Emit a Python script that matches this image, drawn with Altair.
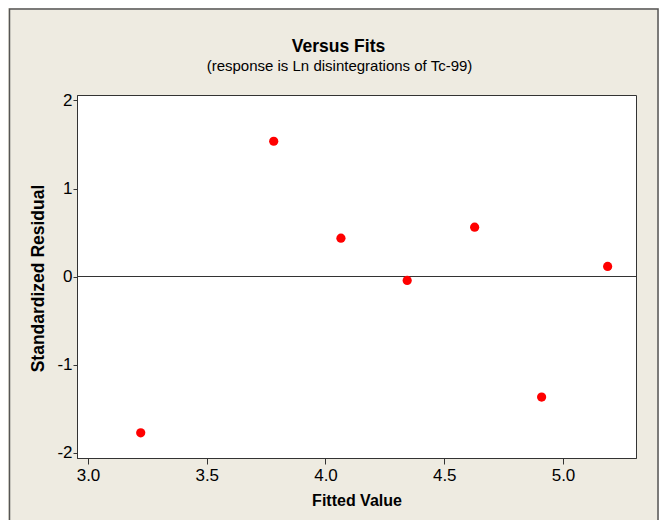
import altair as alt
import pandas as pd

# Data
fitted = [3.222, 3.782, 4.065, 4.344, 4.628, 4.910, 5.188]
std_resid = [-1.776, 1.537, 0.435, -0.045, 0.560, -1.370, 0.114]
x_ticks = [3.0, 3.5, 4.0, 4.5, 5.0]
y_ticks = [-2, -1, 0, 1, 2]
title_text = "Versus Fits"
subtitle_text = "(response is Ln disintegrations of Tc-99)"

df = pd.DataFrame({"Fitted Value": fitted, "Standardized Residual": std_resid})

FONT = "Liberation Sans, Arial, sans-serif"
W, H = 559, 363

x = alt.X(
    "Fitted Value:Q",
    title="Fitted Value",
    scale=alt.Scale(domain=[2.9537, 5.3074], nice=False, zero=False),
    axis=alt.Axis(
        values=x_ticks, labelExpr="format(datum.value, '.1f')", grid=False,
        tickSize=6, labelPadding=3, labelFontSize=17, labelFont=FONT,
        titleFontSize=16, titleFont=FONT, titleFontWeight="bold",
        titleY=47, titleBaseline="alphabetic",
        domainColor="#333333", tickColor="#333333", labelColor="#000000",
        titleColor="#000000",
    ),
)
y = alt.Y(
    "Standardized Residual:Q",
    title="Standardized Residual",
    scale=alt.Scale(domain=[-2.0625, 2.0625], nice=False, zero=False),
    axis=alt.Axis(
        values=y_ticks, labelExpr="datum.value", grid=False,
        tickSize=4, labelPadding=1, labelFontSize=17, labelFont=FONT,
        titleFontSize=17.5, titleFont=FONT, titleFontWeight="bold",
        titleX=-34, titleY=183, titleAngle=-90, titleAlign="center",
        titleBaseline="alphabetic",
        domainColor="#333333", tickColor="#333333", labelColor="#000000",
        titleColor="#000000",
    ),
)

points = alt.Chart(df).mark_circle(size=85, color="#FF0000", opacity=1).encode(x=x, y=y)

zero = alt.Chart(pd.DataFrame({"z": [0]})).mark_rule(color="#333333", strokeWidth=1).encode(
    y=alt.datum(0)
)

one = pd.DataFrame({"title": [title_text], "subtitle": [subtitle_text]})

frame = alt.Chart(one).mark_rect(
    fill="transparent", stroke="#555555", strokeWidth=1.5
).encode(
    x=alt.value(-67.5), x2=alt.value(581), y=alt.value(-86), y2=alt.value(460)
)

title = alt.Chart(one).mark_text(
    font=FONT, fontSize=17.5, fontWeight="bold", color="#000000",
    align="center", baseline="alphabetic",
).encode(text="title:N", x=alt.value(261.5), y=alt.value(-42.7))

subtitle = alt.Chart(one).mark_text(
    font=FONT, fontSize=15, color="#000000",
    align="center", baseline="alphabetic",
).encode(text="subtitle:N", x=alt.value(262.5), y=alt.value(-24.3))

chart = (
    alt.layer(frame, zero, points, title, subtitle)
    .properties(
        width=W,
        height=H,
        autosize=alt.AutoSizeParams(type="none"),
        padding={"left": 69, "top": 87, "right": 23, "bottom": 62},
        background="#EEEBE1",
    )
    .configure_view(fill="#FFFFFF", stroke="#333333", strokeWidth=1)
)

chart.save("out.html", embed_options={"renderer": "svg", "actions": False})
